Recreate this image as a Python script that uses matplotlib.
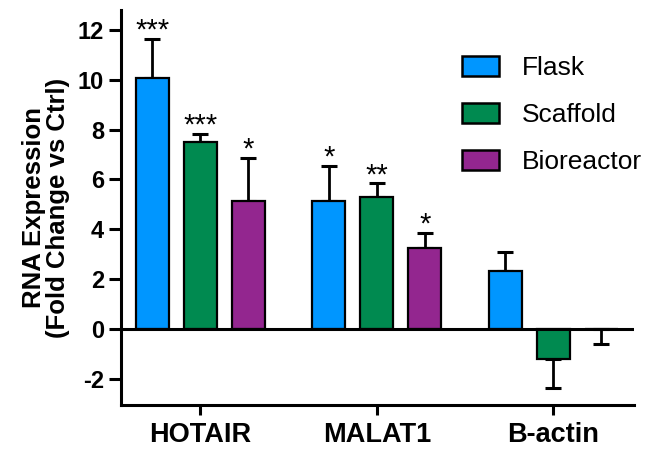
## Libraries needed
import numpy as np
import matplotlib.pyplot as plt
from matplotlib.patches import Patch

plt.rcParams['font.family'] = ['Liberation Sans', 'DejaVu Sans']
plt.rcParams['axes.unicode_minus'] = False

## Data
genes = ['HOTAIR', 'MALAT1', 'B-actin']
conditions = ['Flask', 'Scaffold', 'Bioreactor']
flask = [10.05, 5.15, 2.32]
scaffold = [7.52, 5.30, -1.22]
bioreactor = [5.15, 3.25, -0.02]
flask_err = [1.6, 1.4, 0.75]
scaffold_err = [0.3, 0.55, 1.16]
bioreactor_err = [1.72, 0.62, 0.58]
flask_stars = ['***', '*', '']
scaffold_stars = ['***', '**', '']
bioreactor_stars = ['*', '*', '']
colors = ['#0096FF', '#008A50', '#93268F']

series = [flask, scaffold, bioreactor]
errors = [flask_err, scaffold_err, bioreactor_err]
stars = [flask_stars, scaffold_stars, bioreactor_stars]

fig = plt.figure(figsize=(6.5, 4.51), dpi=100)
ax = fig.add_axes([0.186, 0.102, 0.789, 0.876])

x = np.arange(len(genes))
offset = 0.272
width = 0.187
lw = 2.2

for i, (vals, errs, st, col) in enumerate(zip(series, errors, stars, colors)):
    pos = x + (i - 1) * offset
    vals = np.array(vals)
    errs = np.array(errs)
    # one-sided error bars, pointing away from zero
    lower = np.where(vals < 0, errs, 0)
    upper = np.where(vals >= 0, errs, 0)
    ax.errorbar(pos, vals, yerr=[lower, upper], fmt='none', ecolor='black',
                elinewidth=2, capsize=6, capthick=2.2, zorder=2)
    ax.bar(pos, vals, width=width, color=col, edgecolor='black',
           linewidth=1.6, zorder=3)
    for p, v, e, s in zip(pos, vals, errs, st):
        if s:
            ax.annotate(s, (p, v + e), xytext=(0, 0), textcoords='offset points',
                        ha='center', va='baseline', fontsize=21, color='black')

ax.axhline(0, color='black', linewidth=lw, zorder=4)

ax.set_xlim(-0.45, 2.456)
ax.set_ylim(-3.05, 12.8)
ax.set_yticks([-2, 0, 2, 4, 6, 8, 10, 12])
ax.set_xticks(x)
ax.set_xticklabels(genes)

for side in ['top', 'right']:
    ax.spines[side].set_visible(False)
for side in ['left', 'bottom']:
    ax.spines[side].set_linewidth(lw)

ax.tick_params(axis='y', direction='out', length=9, width=lw, labelsize=17, pad=3)
ax.tick_params(axis='x', direction='out', length=7, width=lw, labelsize=19.5, pad=5)
for lab in ax.get_xticklabels() + ax.get_yticklabels():
    lab.set_fontweight('bold')

ax.set_ylabel('RNA Expression\n(Fold Change vs Ctrl)', fontsize=18.5,
              fontweight='bold', labelpad=6, linespacing=1.0)

handles = [Patch(facecolor=c, edgecolor='black', linewidth=1.8) for c in colors]
fig.legend(handles, conditions, loc='upper left',
           bbox_to_anchor=(462 / 650, 1 - 56 / 451), frameon=False,
           fontsize=19, handlelength=1.4, handleheight=0.76,
           handletextpad=0.85, labelspacing=0.88, borderpad=0, borderaxespad=0)

plt.savefig('out.png', dpi=100)
plt.close()
